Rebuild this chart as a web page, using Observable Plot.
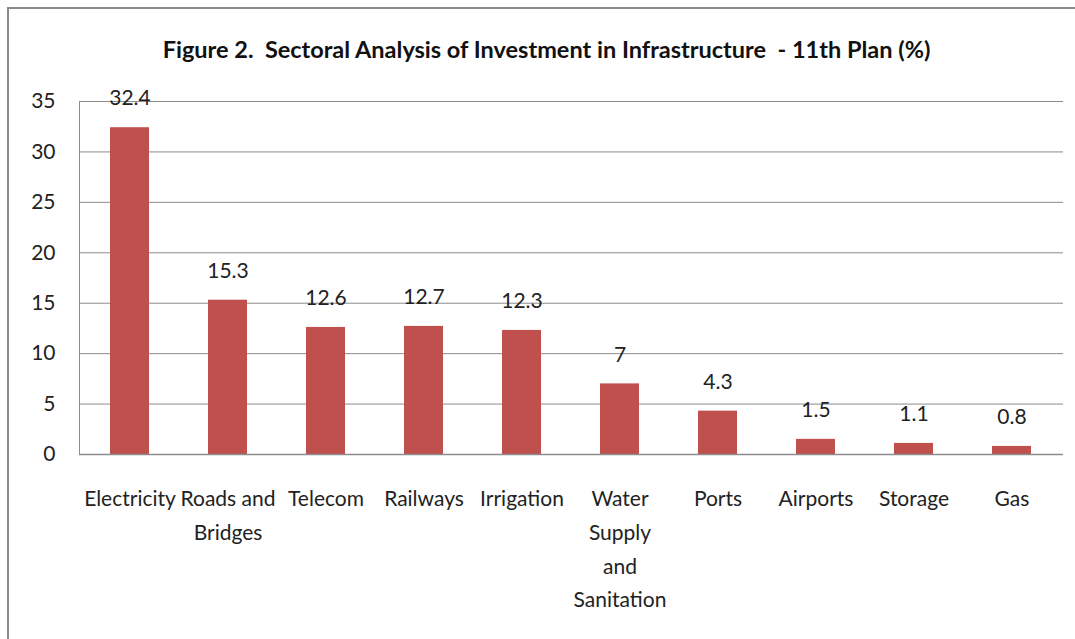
<!DOCTYPE html>
<html><head><meta charset="utf-8">
<script src="https://cdn.jsdelivr.net/npm/d3@7"></script>
<script src="https://cdn.jsdelivr.net/npm/@observablehq/plot@0.6"></script>
<style>
html,body{margin:0;background:#fff;overflow:hidden;width:1075px;height:639px;}
body{font-family:Lato,sans-serif;position:relative;}
#frame{position:absolute;left:7px;top:7px;right:0;bottom:0;border-left:2px solid #8a8a8a;border-top:2px solid #8a8a8a;pointer-events:none;}
#title{height:80px;box-sizing:border-box;padding-top:38px;width:1093px;text-align:center;font-weight:bold;font-size:23.5px;line-height:23px;color:#111;white-space:pre;}
</style></head><body>
<div id="frame"></div>
<div id="title">Figure 2.  Sectoral Analysis of Investment in Infrastructure  - 11th Plan (%)</div>
<div id="chart"></div>
<script>
const categories = ["Electricity","Roads and Bridges","Telecom","Railways","Irrigation","Water Supply and Sanitation","Ports","Airports","Storage","Gas"];
const values = [32.4,15.3,12.6,12.7,12.3,7,4.3,1.5,1.1,0.8];
const tickLabels = ["Electricity","Roads and\nBridges","Telecom","Railways","Irrigation","Water\nSupply\nand\nSanitation","Ports","Airports","Storage","Gas"];
const yTicks = [0,5,10,15,20,25,30,35];

const data = categories.map((c,i)=>({category:c,value:values[i]}));
const labelFor = new Map(categories.map((c,i)=>[c,tickLabels[i]]));

const chart = Plot.plot({
  width:1075, height:559,
  marginTop:21, marginBottom:185, marginLeft:79, marginRight:12,
  style:{fontFamily:"Lato, sans-serif", fontSize:"21px", color:"#222", background:"transparent", overflow:"visible"},
  x:{domain:categories, paddingInner:0.6, paddingOuter:0.3, label:null},
  y:{domain:[0,35], label:null},
  marks:[
    Plot.gridY(yTicks,{stroke:"#8c8c8c", strokeOpacity:1}),
    Plot.barY(data,{x:"category", y:"value", fill:"#C0504D"}),
    Plot.ruleY([0],{stroke:"#8c8c8c", strokeWidth:1.5}),
    Plot.frame({anchor:"left", stroke:"#8c8c8c"}),
    Plot.axisY(yTicks,{tickSize:0, tickPadding:24, label:null, fill:"#222"}),
    Plot.axisX({tickSize:0, tickPadding:28, label:null, tickFormat:d=>labelFor.get(d), lineHeight:1.6, fill:"#222"}),
    Plot.text(data,{x:"category", y:"value", text:d=>String(d.value), dy:-29, lineAnchor:"middle", fill:"#222"})
  ]
});
document.getElementById("chart").appendChild(chart);
</script>
</body></html>
